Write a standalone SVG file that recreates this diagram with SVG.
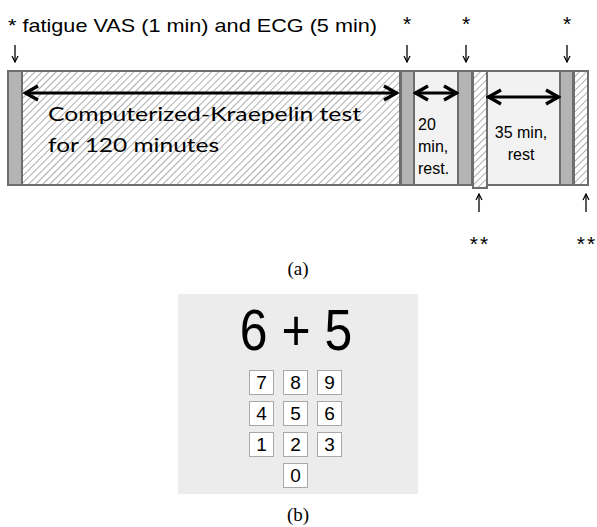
<svg xmlns="http://www.w3.org/2000/svg" width="597" height="527" viewBox="0 0 597 527">
<defs>
<pattern id="hatch" patternUnits="userSpaceOnUse" width="5" height="5" patternTransform="rotate(45)">
<rect width="5" height="5" fill="#ffffff"/>
<line x1="0" y1="0" x2="0" y2="5" stroke="#a0a0a0" stroke-width="1.7"/>
</pattern>
<marker id="ah" viewBox="0 0 18 18" refX="16" refY="9" markerWidth="18" markerHeight="18" markerUnits="userSpaceOnUse" orient="auto-start-reverse">
<path d="M3,2 L15.5,9 L3,16" fill="none" stroke="#000" stroke-width="3.4" stroke-linejoin="miter"/>
</marker>
<marker id="sa" viewBox="0 0 8 8" refX="7" refY="4" markerWidth="8" markerHeight="8" markerUnits="userSpaceOnUse" orient="auto">
<path d="M1,1 L7,4 L1,7" fill="none" stroke="#000" stroke-width="1.2"/>
</marker>
</defs>
<style>
.seg{stroke:#6e6e6e;stroke-width:2}
.gray{fill:#b4b4b4}
.light{fill:#f2f2f2}
.hat{fill:url(#hatch)}
.lbl{font-family:"Liberation Sans",Arial,sans-serif;fill:#000}
.cal{font-family:Lato,"Open Sans",sans-serif;fill:#000}
.ser{font-family:"Liberation Serif","Times New Roman",serif;fill:#000}
.ast{font-family:"Liberation Sans",Arial,sans-serif;fill:#000;font-size:21px;text-anchor:middle}
.dbl{stroke:#000;stroke-width:3;fill:none;marker-start:url(#ah);marker-end:url(#ah)}
.sm{stroke:#000;stroke-width:1.3;fill:none;marker-end:url(#sa)}
.key{fill:#fff;stroke:#a8a8a8;stroke-width:1}
</style>
<rect width="597" height="527" fill="#fff"/>

<text class="lbl" x="8" y="32" font-size="18.5" textLength="369" lengthAdjust="spacingAndGlyphs">* fatigue VAS (1 min) and ECG (5 min)</text>

<g id="timeline">
<rect id="s1" class="seg gray" x="8" y="71" width="14" height="114"/>
<rect id="s2" class="seg hat" x="22" y="71" width="378" height="114"/>
<rect id="s3" class="seg gray" x="401" y="71" width="13" height="114"/>
<rect id="s4" class="seg light" x="414" y="71" width="44" height="114"/>
<rect id="s5" class="seg gray" x="458" y="71" width="14" height="114"/>
<rect id="s6" class="seg hat" x="473" y="71" width="14" height="117"/>
<rect id="s7" class="seg light" x="487" y="71" width="73" height="114"/>
<rect id="s8" class="seg gray" x="560" y="71" width="13" height="114"/>
<rect id="s9" class="seg hat" x="574" y="71" width="14" height="114"/>
</g>

<g id="connectors">
<line class="dbl" x1="25" y1="93" x2="397" y2="93"/>
<line class="dbl" x1="415" y1="93" x2="457" y2="93"/>
<line class="dbl" x1="488" y1="97" x2="559" y2="97"/>
<line class="sm" x1="15" y1="45" x2="15" y2="62"/>
<line class="sm" x1="407" y1="45" x2="407" y2="62"/>
<line class="sm" x1="466" y1="45" x2="466" y2="62"/>
<line class="sm" x1="567" y1="45" x2="567" y2="62"/>
<line class="sm" x1="479" y1="212" x2="479" y2="194"/>
<line class="sm" x1="586" y1="212" x2="586" y2="194"/>
</g>

<g id="labels">
<text class="cal" x="48" y="121" font-size="20" textLength="313" lengthAdjust="spacingAndGlyphs">Computerized-Kraepelin test</text>
<text class="cal" x="48" y="152" font-size="20" textLength="171" lengthAdjust="spacingAndGlyphs">for 120 minutes</text>
<text class="lbl" font-size="16"><tspan x="418" y="130">20</tspan><tspan x="418" y="152">min,</tspan><tspan x="418" y="174">rest.</tspan></text>
<text class="lbl" font-size="16" text-anchor="middle"><tspan x="521" y="138">35 min,</tspan><tspan x="521" y="160">rest</tspan></text>
<text class="ast" x="407" y="31">*</text>
<text class="ast" x="466" y="31">*</text>
<text class="ast" x="567" y="31">*</text>
<text class="ast" x="480" y="251" letter-spacing="2">**</text>
<text class="ast" x="587" y="251" letter-spacing="2">**</text>
<text class="ser" font-size="19" x="298" y="275" text-anchor="middle">(a)</text>
</g>

<g id="panel-b">
<rect x="178" y="294" width="240" height="200" fill="#ececec"/>
<text class="lbl" font-size="58" x="296" y="350" text-anchor="middle" transform="translate(296 0) scale(0.86 1) translate(-296 0)">6 + 5</text>
<g id="keypad" class="lbl" font-size="19" text-anchor="middle">
<rect class="key" x="249.5" y="370.5" width="24" height="24"/>
<rect class="key" x="283.5" y="370.5" width="24" height="24"/>
<rect class="key" x="317.5" y="370.5" width="24" height="24"/>
<rect class="key" x="249.5" y="401.5" width="24" height="24"/>
<rect class="key" x="283.5" y="401.5" width="24" height="24"/>
<rect class="key" x="317.5" y="401.5" width="24" height="24"/>
<rect class="key" x="249.5" y="432.5" width="24" height="24"/>
<rect class="key" x="283.5" y="432.5" width="24" height="24"/>
<rect class="key" x="317.5" y="432.5" width="24" height="24"/>
<rect class="key" x="283.5" y="463.5" width="24" height="24"/>
<text x="261.5" y="389">7</text><text x="295.5" y="389">8</text><text x="329.5" y="389">9</text>
<text x="261.5" y="420">4</text><text x="295.5" y="420">5</text><text x="329.5" y="420">6</text>
<text x="261.5" y="451">1</text><text x="295.5" y="451">2</text><text x="329.5" y="451">3</text>
<text x="295.5" y="482">0</text>
</g>
</g>
<text class="ser" font-size="19" x="298" y="521" text-anchor="middle">(b)</text>
</svg>
